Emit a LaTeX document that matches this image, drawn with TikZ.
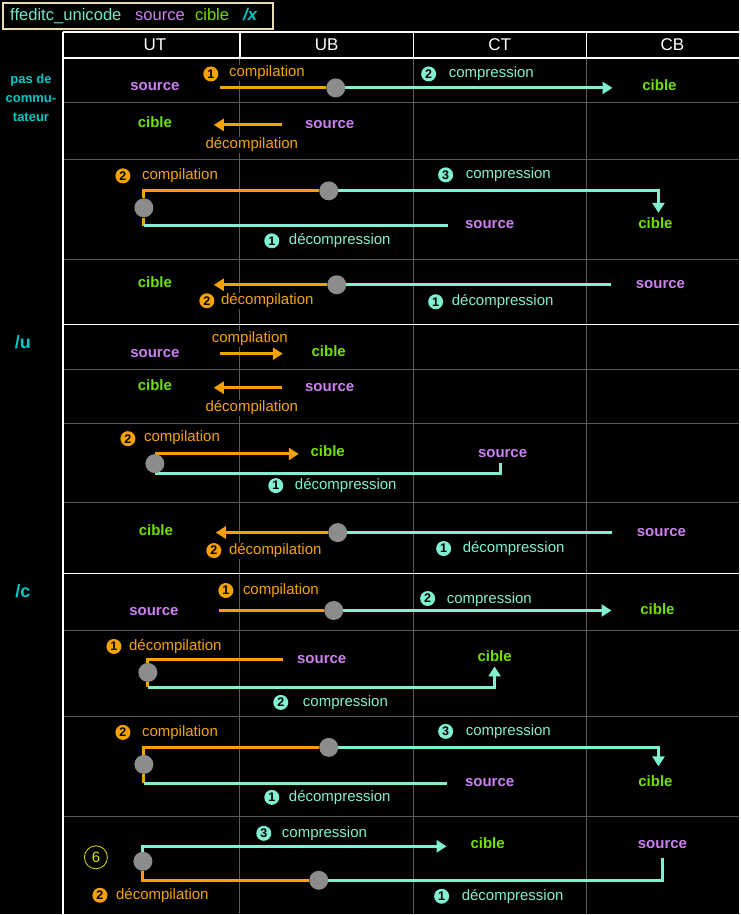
\documentclass[tikz,border=0pt]{standalone}
\usepackage{fontspec}
\setmainfont{Liberation Sans}
\usetikzlibrary{arrows.meta}
\pgfdeclarelayer{grid}
\pgfdeclarelayer{lines}
\pgfsetlayers{grid,lines,main}
\definecolor{corange}{HTML}{F5A200}
\definecolor{cteal}{HTML}{80F0D0}
\definecolor{cviolet}{HTML}{CC80F0}
\definecolor{cgreen}{HTML}{70E000}
\definecolor{cdot}{HTML}{8C8C8C}
\definecolor{cgrid}{HTML}{5A5A5A}
\definecolor{cbeige}{HTML}{E8DDB5}
\definecolor{ccyan}{HTML}{00C8C8}
\definecolor{cyell}{HTML}{E0E000}
\definecolor{chead}{HTML}{70E8C8}
\begin{document}
\begin{tikzpicture}[x=1pt,y=-1pt,
  txt/.style={inner sep=1pt, fill=black, text height=11pt, text depth=3pt, font=\fontsize{15}{18}\selectfont},
  srcl/.style={txt, text=cviolet, font=\fontsize{15}{18}\selectfont\bfseries},
  tgtl/.style={txt, text=cgreen, font=\fontsize{15}{18}\selectfont\bfseries},
  olbl/.style={txt, text=corange},
  tlbl/.style={txt, text=cteal},
  obadge/.style={circle, fill=corange, text=black, inner sep=0pt, minimum size=15pt, font=\fontsize{12.5}{12.5}\selectfont\bfseries},
  tbadge/.style={circle, fill=cteal, text=black, inner sep=0pt, minimum size=15pt, font=\fontsize{12.5}{12.5}\selectfont\bfseries},
  gdot/.style={circle, fill=cdot, inner sep=0pt, minimum size=19pt},
  oline/.style={draw=corange, line width=3pt},
  tline/.style={draw=cteal, line width=3pt},
  arr/.style={-{Triangle[length=10pt,width=12pt]}},
  gridl/.style={draw=cgrid, line width=1pt},
  framel/.style={draw=white, line width=1.5pt},
  colh/.style={text=white, font=\fontsize{17}{20}\selectfont, inner sep=0pt},
  sect/.style={text=ccyan, font=\fontsize{18}{20}\selectfont\bfseries, inner sep=0pt},
  sidel/.style={text=ccyan, font=\fontsize{13}{15}\selectfont\bfseries, inner sep=0pt},
  hdrt/.style={font=\fontsize{16.6}{18}\selectfont, inner sep=0pt, anchor=base west}
]
\begin{pgfonlayer}{grid}
\fill[black] (0,0) rectangle (740,915);
\foreach \y in {103,160,260,370,424,503,631,717,817} \draw[gridl] (63,\y) -- (740,\y);
\foreach \x in {240,414,587} \draw[gridl] (\x,58) -- (\x,915);
\foreach \x in {240,414,587} \draw[framel] (\x,32) -- (\x,58);
\foreach \y in {32,58,325,574} \draw[framel] (63,\y) -- (740,\y);
\draw[framel] (63,32) -- (63,915);
\end{pgfonlayer}
\useasboundingbox (0,0) rectangle (740,915);

% header box
\node[draw=cbeige, line width=2.5pt, fill=black, minimum width=270pt, minimum height=26pt, anchor=north west, inner sep=0pt] (hdr) at (2,2) {};
\node[hdrt, text=chead] (h1) at (10,21) {ffeditc\_unicode};
\node[hdrt, text=cviolet] (h2) at (135,21) {source};
\node[hdrt, text=cgreen] (h3) at (195,21) {cible};
\node[hdrt, text=ccyan, font=\fontsize{17}{18}\selectfont\bfseries\itshape] (h4) at (243,21) {/x};

% column headers
\node[colh] (cUT) at (155,45) {UT};
\node[colh] (cUB) at (327,45) {UB};
\node[colh] (cCT) at (500,45) {CT};
\node[colh] (cCB) at (673,45) {CB};

% side labels
\node[sidel] (pa1) at (31,80) {pas de};
\node[sidel] (pa2) at (31,99) {commu-};
\node[sidel] (pa3) at (31,117) {tateur};
\node[sect] (su) at (23,342) {/u};
\node[sect] (sc) at (23,592) {/c};

% ===== section 1 row 1
\node[srcl] (s11) at (155,87) {source};
\node[obadge] (b11a) at (211,74) {1};
\node[olbl, anchor=west] (l11a) at (228,73) {compilation};
\node[gdot] (d11) at (336,88) {};
\node[tbadge] (b11b) at (429,74) {2};
\node[tlbl, anchor=west] (l11b) at (448,74) {compression};
\node[tgtl] (t11) at (660,87) {cible};
\coordinate (p11a) at (220,88);
\coordinate (p11b) at (613,88);
\begin{pgfonlayer}{lines}
\draw[oline] (p11a) -- (d11);
\draw[tline, arr] (d11) -- (p11b);
\end{pgfonlayer}

% ===== section 1 row 2
\node[tgtl] (t12) at (155,124) {cible};
\node[srcl] (s12) at (330,125) {source};
\node[olbl] (l12) at (252,145) {décompilation};
\coordinate (p12a) at (282,125);
\coordinate (p12b) at (214,125);
\begin{pgfonlayer}{lines}
\draw[oline, arr] (p12a) -- (p12b);
\end{pgfonlayer}

% ===== section 1 row 3
\node[obadge] (b13a) at (123,176) {2};
\node[olbl, anchor=west] (l13a) at (141,176) {compilation};
\node[gdot] (d13a) at (329,191) {};
\node[gdot] (d13b) at (144,208) {};
\node[tbadge] (b13b) at (446,175) {3};
\node[tlbl, anchor=west] (l13b) at (465,175) {compression};
\node[tbadge] (b13c) at (272,241) {1};
\node[tlbl, anchor=west] (l13c) at (288,241) {décompression};
\node[srcl] (s13) at (490,225) {source};
\node[tgtl] (t13) at (656,225) {cible};
\coordinate (p13a) at (144,191);
\coordinate (p13b) at (144,226);
\coordinate (p13c) at (448,226);
\coordinate (p13d) at (659,191);
\coordinate (p13e) at (659,213);
\begin{pgfonlayer}{lines}
\draw[oline] (d13a) -- (p13a) -- (d13b);
\draw[oline] (d13b) -- (p13b);
\draw[tline] (p13b) -- (p13c);
\draw[tline, arr] (d13a) -- (p13d) -- (p13e);
\end{pgfonlayer}

% ===== section 1 row 4
\node[tgtl] (t14) at (155,284) {cible};
\node[gdot] (d14) at (337,285) {};
\node[srcl] (s14) at (661,285) {source};
\node[obadge] (b14a) at (207,301) {2};
\node[olbl, anchor=west] (l14a) at (220,301) {décompilation};
\node[tbadge] (b14b) at (436,302) {1};
\node[tlbl, anchor=west] (l14b) at (451,302) {décompression};
\coordinate (p14a) at (214,285);
\coordinate (p14b) at (611,285);
\begin{pgfonlayer}{lines}
\draw[oline, arr] (d14) -- (p14a);
\draw[tline] (p14b) -- (d14);
\end{pgfonlayer}

% ===== section 2 row 1
\node[srcl] (s21) at (155,354) {source};
\node[olbl] (l21) at (250,339) {compilation};
\node[tgtl] (t21) at (329,353) {cible};
\coordinate (p21a) at (220,354);
\coordinate (p21b) at (283,354);
\begin{pgfonlayer}{lines}
\draw[oline, arr] (p21a) -- (p21b);
\end{pgfonlayer}

% ===== section 2 row 2
\node[tgtl] (t22) at (155,387) {cible};
\node[srcl] (s22) at (330,388) {source};
\node[olbl] (l22) at (252,408) {décompilation};
\coordinate (p22a) at (282,388);
\coordinate (p22b) at (214,388);
\begin{pgfonlayer}{lines}
\draw[oline, arr] (p22a) -- (p22b);
\end{pgfonlayer}

% ===== section 2 row 3
\node[obadge] (b23a) at (128,439) {2};
\node[olbl, anchor=west] (l23a) at (143,438) {compilation};
\node[gdot] (d23) at (155,464) {};
\node[tgtl] (t23) at (328,453) {cible};
\node[srcl] (s23) at (503,454) {source};
\node[tbadge] (b23b) at (276,486) {1};
\node[tlbl, anchor=west] (l23b) at (294,486) {décompression};
\coordinate (p23a) at (299,454.5);
\coordinate (p23b) at (501,463);
\begin{pgfonlayer}{lines}
\draw[oline, arr] (d23.north) -- (d23.north -| p23a);
\draw[tline] (d23.south) -- (d23.south -| p23b) -- (p23b);
\end{pgfonlayer}

% ===== section 2 row 4
\node[tgtl] (t24) at (156,532) {cible};
\node[gdot] (d24) at (338,533) {};
\node[srcl] (s24) at (662,533) {source};
\node[obadge] (b24a) at (214,551) {2};
\node[olbl, anchor=west] (l24a) at (228,551) {décompilation};
\node[tbadge] (b24b) at (444,549) {1};
\node[tlbl, anchor=west] (l24b) at (462,549) {décompression};
\coordinate (p24a) at (216,533);
\coordinate (p24b) at (612,533);
\begin{pgfonlayer}{lines}
\draw[oline, arr] (d24) -- (p24a);
\draw[tline] (p24b) -- (d24);
\end{pgfonlayer}

% ===== section 3 row 1
\node[obadge] (b31a) at (226,591) {1};
\node[olbl, anchor=west] (l31a) at (242,591) {compilation};
\node[srcl] (s31) at (154,612) {source};
\node[gdot] (d31) at (334,611) {};
\node[tgtl] (t31) at (658,611) {cible};
\node[tbadge] (b31b) at (428,599) {2};
\node[tlbl, anchor=west] (l31b) at (446,600) {compression};
\coordinate (p31a) at (219,611);
\coordinate (p31b) at (612,611);
\begin{pgfonlayer}{lines}
\draw[oline] (p31a) -- (d31);
\draw[tline, arr] (d31) -- (p31b);
\end{pgfonlayer}

% ===== section 3 row 2
\node[obadge] (b32a) at (114,647) {1};
\node[olbl, anchor=west] (l32a) at (128,647) {décompilation};
\node[gdot] (d32) at (148,673) {};
\node[srcl] (s32) at (322,660) {source};
\node[tgtl] (t32) at (495,658) {cible};
\node[tbadge] (b32b) at (281,703) {2};
\node[tlbl, anchor=west] (l32b) at (302,703) {compression};
\coordinate (p32a) at (283,660);
\coordinate (p32b) at (148,660);
\coordinate (p32c) at (148,688);
\coordinate (p32d) at (495,688);
\coordinate (p32e) at (495,667);
\begin{pgfonlayer}{lines}
\draw[oline] (p32a) -- (p32b) -- (d32);
\draw[oline] (d32) -- (p32c);
\draw[tline, arr] (p32c) -- (p32d) -- (p32e);
\end{pgfonlayer}

% ===== section 3 row 3
\node[obadge] (b33a) at (123,733) {2};
\node[olbl, anchor=west] (l33a) at (141,733) {compilation};
\node[gdot] (d33a) at (329,748) {};
\node[gdot] (d33b) at (144,765) {};
\node[tbadge] (b33b) at (446,732) {3};
\node[tlbl, anchor=west] (l33b) at (465,732) {compression};
\node[tbadge] (b33c) at (272,798) {1};
\node[tlbl, anchor=west] (l33c) at (288,798) {décompression};
\node[srcl] (s33) at (490,783) {source};
\node[tgtl] (t33) at (656,783) {cible};
\coordinate (p33a) at (144,748);
\coordinate (p33b) at (144,784);
\coordinate (p33c) at (447,784);
\coordinate (p33d) at (659,748);
\coordinate (p33e) at (659,767);
\begin{pgfonlayer}{lines}
\draw[oline] (d33a) -- (p33a) -- (d33b);
\draw[oline] (d33b) -- (p33b);
\draw[tline] (p33b) -- (p33c);
\draw[tline, arr] (d33a) -- (p33d) -- (p33e);
\end{pgfonlayer}

% ===== section 3 row 4
\node[circle, draw=cyell, line width=0.8pt, text=cyell, minimum size=23pt, inner sep=0pt, font=\fontsize{15}{15}\selectfont] (six) at (96,858) {6};
\node[tbadge] (b34a) at (264,834) {3};
\node[tlbl, anchor=west] (l34a) at (281,834) {compression};
\node[gdot] (d34a) at (143,862) {};
\node[gdot] (d34b) at (319,881) {};
\node[tgtl] (t34) at (488,845) {cible};
\node[srcl] (s34) at (663,845) {source};
\node[obadge] (b34b) at (100,896) {2};
\node[olbl, anchor=west] (l34b) at (115,896) {décompilation};
\node[tbadge] (b34c) at (442,897) {1};
\node[tlbl, anchor=west] (l34c) at (461,897) {décompression};
\coordinate (p34a) at (143,847);
\coordinate (p34b) at (447,847);
\coordinate (p34c) at (143,881);
\coordinate (p34d) at (663,881);
\coordinate (p34e) at (663,859);
\begin{pgfonlayer}{lines}
\draw[tline, arr] (d34a) -- (p34a) -- (p34b);
\draw[oline] (d34a) -- (p34c) -- (d34b);
\draw[tline] (d34b) -- (p34d) -- (p34e);
\end{pgfonlayer}
\end{tikzpicture}
\end{document}
